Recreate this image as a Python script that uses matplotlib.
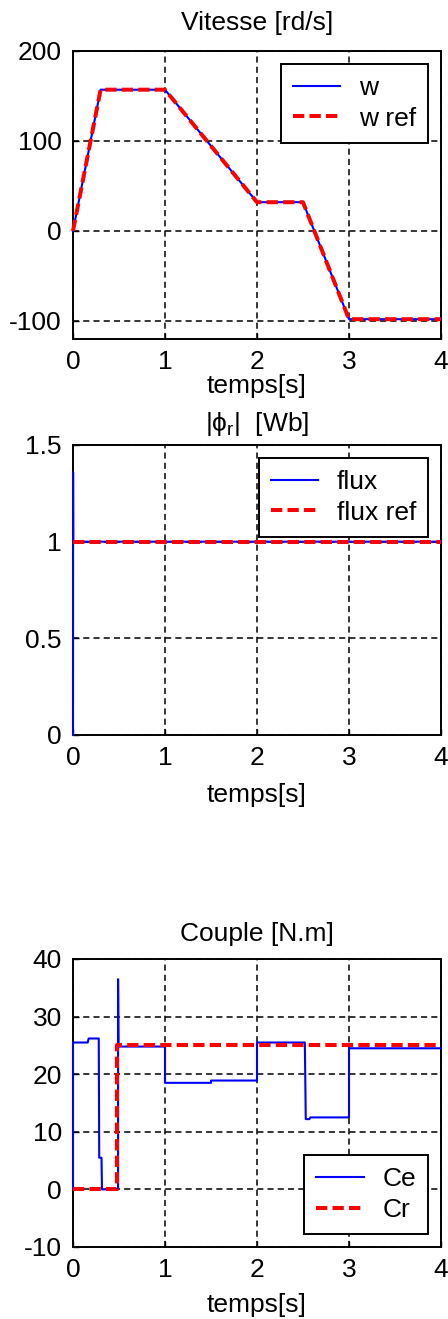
import matplotlib
matplotlib.use('agg')
import matplotlib.pyplot as plt

plt.rcParams['font.family'] = ['Liberation Sans', 'DejaVu Sans']
plt.rcParams['mathtext.fontset'] = 'custom'
plt.rcParams['mathtext.rm'] = 'Liberation Sans'
plt.rcParams['mathtext.it'] = 'Liberation Sans'

# speed [rd/s]
t_w = [0, 0.3, 1.0, 2.0, 2.5, 3.0, 4.0]
w = [0, 157, 157, 32, 32, -98, -98]
t_wref = [0, 0.3, 1.0, 2.0, 2.5, 3.0, 4.0]
w_ref = [0, 157, 157, 32, 32, -98, -98]

# rotor flux magnitude [Wb]
t_flux = [0, 0.001, 0.003, 4.0]
flux = [0, 1.36, 1.0, 1.0]
t_fluxref = [0, 4.0]
flux_ref = [1.0, 1.0]

# torque [N.m]
t_ce = [0, 0, 0.16, 0.17, 0.28, 0.285, 0.31, 0.315, 0.49, 0.49, 0.495, 1.0, 1.0,
        1.5, 1.5, 2.0, 2.0, 2.52, 2.53, 2.57, 2.58, 3.0, 3.0, 4.0]
ce = [0, 25.5, 25.5, 26.2, 26.2, 5.5, 5.5, 0, 0, 36.5, 24.8, 24.8, 18.5,
      18.5, 18.9, 18.9, 25.5, 25.5, 12.2, 12.2, 12.5, 12.5, 24.5, 24.5]
t_cr = [0, 0.48, 0.48, 4.0]
cr = [0, 0, 25, 25]

FS = 19
W, H = 448, 1319
fig = plt.figure(figsize=(W / 100, H / 100), dpi=100)


def make_axes(top_px, bottom_px):
    left, right = 73, 441
    return fig.add_axes([left / W, (H - bottom_px) / H,
                         (right - left) / W, (bottom_px - top_px) / H])


def style(ax, ylim, yticks, title, title_pad, label_pad):
    ax.set_xlim(0, 4)
    ax.set_ylim(*ylim)
    ax.set_xticks([0, 1, 2, 3, 4])
    ax.set_yticks(yticks)
    ax.set_yticklabels([f'{v:g}' for v in yticks])
    ax.tick_params(direction='in', length=4, width=1, labelsize=FS, pad=8)
    ax.grid(True, color='black', linestyle=(0, (4, 2.7)), linewidth=1.1)
    for s in ax.spines.values():
        s.set_linewidth(1.4)
    ax.set_title(title, fontsize=FS, pad=title_pad)
    ax.set_xlabel('temps[s]', fontsize=FS, labelpad=label_pad)


def add_legend(ax, loc):
    leg = ax.legend(loc=loc, fontsize=FS, handlelength=1.8, handletextpad=0.7,
                    borderpad=0.45, labelspacing=0.25, borderaxespad=0.5,
                    fancybox=False, framealpha=1, edgecolor='black')
    leg.get_frame().set_linewidth(1.4)
    leg.set_zorder(5)


# data lines sit above the spines so the traces along t=0 stay visible
red_kw = dict(color='red', linewidth=2.9, dashes=(2.8, 1.3), zorder=3.2, clip_on=False)
blue_kw = dict(color='blue', linewidth=1.5, zorder=3.1, clip_on=False)

ax1 = make_axes(51, 339)
ax1.plot(t_w, w, label='w', **blue_kw)
ax1.plot(t_wref, w_ref, label='w ref', **red_kw)
style(ax1, (-120, 200), [-100, 0, 100, 200], 'Vitesse [rd/s]', 15, 0)
add_legend(ax1, 'upper right')

ax2 = make_axes(445, 735)
ax2.plot(t_flux, flux, label='flux', **blue_kw)
ax2.plot(t_fluxref, flux_ref, label='flux ref', **red_kw)
style(ax2, (0, 1.5), [0, 0.5, 1, 1.5], r'$|\phi_r|$  [Wb]', 10, 9)
add_legend(ax2, 'upper right')

ax3 = make_axes(959, 1247)
ax3.plot(t_ce, ce, label='Ce', **blue_kw)
ax3.plot(t_cr, cr, label='Cr', **red_kw)
style(ax3, (-10, 40), [-10, 0, 10, 20, 30, 40], 'Couple [N.m]', 13, 8)
add_legend(ax3, 'lower right')

fig.savefig('out.png', dpi=100)
plt.close(fig)
